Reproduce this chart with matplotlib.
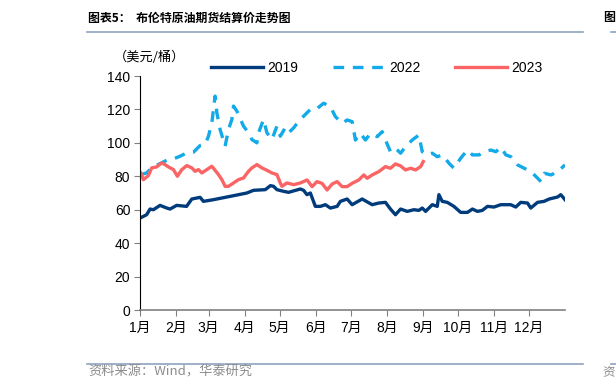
import matplotlib.pyplot as plt
from matplotlib.lines import Line2D

plt.rcParams['font.family'] = ['Liberation Sans', 'Noto Sans CJK SC']

# day-of-year positions and prices (USD/bbl)
days_2019 = [0, 5.7, 8.6, 11.5, 17.2, 23, 25.8, 31.5, 40, 44.5, 51.6, 54.5, 63, 77.5,
             91.8, 97.5, 107.6, 112, 114.7, 117.6, 123.3, 127.6, 137.7, 140.5, 143.4,
             146.3, 150.6, 154.9, 159.2, 163.5, 169.3, 172.1, 177.9, 182.2, 190.8,
             199.4, 205.1, 210.8, 215.1, 219.4, 223.8, 229.5, 235.2, 239.5, 242.4,
             245.3, 251, 255.3, 256.7, 259.6, 263.9, 269.6, 275.4, 281.2, 285.5,
             289.8, 294, 298.4, 304, 309.8, 318.4, 322.7, 327, 332.8, 335.6, 341.4,
             347, 351.4, 358.6, 361.4, 365]
brent_2019 = [55, 57, 60.4, 60, 62.6, 61, 60.4, 62.6, 62, 66.4, 67.4, 65, 66, 68,
              70, 71.6, 72, 74.4, 74, 72, 71, 70.4, 72.4, 71.6, 69,
              70, 62, 62, 63, 61, 62, 65, 66.4, 63, 66.4,
              63, 64, 64.4, 60.4, 57, 60.4, 59, 60, 59.6, 61,
              59, 63, 62, 69, 65, 64.4, 62, 58.4, 58.4, 60.4,
              59, 59.6, 62, 61.6, 63, 63, 61.6, 64.4, 64, 61, 64.4,
              65, 66.4, 67.6, 69, 66]

days_2022 = [0.6, 5.7, 10, 17.2, 23, 28.7, 34.4, 40.2, 45.9, 51.6, 55.9, 58.8, 61.7,
             64.5, 66, 68.8, 73.1, 76, 78.9, 80.3, 83.2, 88.9, 93.2, 96.1, 100.4,
             101.8, 106.1, 109, 113.3, 117.6, 120.5, 124.7, 127.6, 132, 136.3, 142,
             146.3, 150.6, 157.7, 163.5, 167.8, 173.6, 177.9, 182.2, 185, 189.3,
             193.6, 198, 203.7, 208, 210.8, 215.1, 219.4, 223.8, 228, 233.8, 239.5,
             242.4, 246.7, 251, 255.3, 259.6, 265.4, 269.6, 275.4, 281.2, 285.5,
             291.3, 295.6, 301.3, 305.6, 310, 314.2, 318.5, 324.3, 330, 335.8, 340.1,
             344.4, 347.3, 353, 358.8, 365]
brent_2022 = [81, 82, 85, 87.6, 89.6, 90.4, 92, 94, 94.4, 98.4, 99, 104, 112,
              128, 118, 108, 98, 108, 114, 122, 119, 110, 106, 102, 100,
              106, 114, 106, 102, 110, 104, 109, 106, 109, 113, 117,
              120, 119.7, 123.7, 121.7, 115.7, 111.7, 113.7, 112.7, 101.7, 105.7,
              101.7, 105.7, 103.7, 106.7, 101.7, 94.7, 96.8, 93.8, 97.7, 101.7, 104.7,
              94.7, 92.8, 93.8, 91.7, 92.8, 87.8, 84.8, 90.8, 95.7, 92.8,
              92.8, 94.7, 95.7, 94.7, 97.4, 92.8, 91.7, 86.8, 84.8, 82.8, 79.8,
              76.8, 81.8, 80.8, 82.8, 86.8]

days_2023 = [0.6, 2.9, 7.2, 10, 14.3, 18.6, 21.5, 24.4, 28.7, 32.1, 35.9, 40.2, 44.5,
             47.3, 50.2, 53.1, 57.4, 61.7, 64.5, 67.4, 70.3, 73.1, 76, 80.3, 84.6,
             88.9, 93.2, 96.1, 100.4, 104.7, 109, 113.3, 117.6, 120.5, 121.9, 126.2,
             132, 137.7, 143.5, 147.8, 152, 156.3, 160.7, 165, 169.3, 173.6, 177.9,
             182.2, 187.9, 192.2, 195.1, 199.4, 205.1, 210.8, 215.1, 219.4, 223.8,
             228, 232.4, 236.7, 241, 243.3]
brent_2023 = [82, 78, 80.4, 85, 85.6, 88, 87, 85.6, 84, 80, 84, 86.4, 85,
              83, 84, 82, 84, 86, 83.6, 81, 78, 74, 74, 76, 78,
              79, 83, 85, 87, 85, 83.6, 82, 81, 76, 74, 76,
              75, 76, 77.8, 73.8, 76.8, 75.8, 71.8, 75.4, 76.8, 73.8, 73.8,
              75.8, 77.8, 80.8, 78.8, 80.8, 82.8, 85.8, 84.8, 87.4, 86.2,
              83.8, 84.8, 83.8, 85.8, 88.8]

month_days = [0, 31, 59, 90, 120, 151, 181, 212, 243, 273, 304, 334]
month_labels = ['1月', '2月', '3月', '4月', '5月', '6月', '7月', '8月', '9月', '10月', '11月', '12月']

c2019 = '#003b7c'
c2022 = '#12aae8'
c2023 = '#fa6464'
rule = '#8ea2bf'

fig = plt.figure(figsize=(6.16, 3.89), dpi=100)
ax = fig.add_axes([140 / 616, 1 - 310 / 389, 425 / 616, 234 / 389])

ax.plot(days_2019, brent_2019, color=c2019, lw=2.4, label='2019')
ax.plot(days_2022, brent_2022, color=c2022, lw=2.4, dashes=(3.2, 2.6), label='2022')
ax.plot(days_2023, brent_2023, color=c2023, lw=2.4, label='2023')

ax.set_xlim(0, 365)
ax.set_ylim(0, 140)
ax.set_yticks(range(0, 141, 20))
ax.set_xticks(month_days)
ax.set_xticklabels(month_labels)
ax.tick_params(axis='y', labelsize=10, length=4, color='#808080', direction='out', pad=3)
ax.tick_params(axis='x', labelsize=10, length=4, color='#808080', direction='out', pad=4)
for s in ['top', 'right']:
    ax.spines[s].set_visible(False)
ax.spines['left'].set_color('black')
ax.spines['bottom'].set_color('#808080')
ax.spines['bottom'].set_linewidth(1.2)

handles = [Line2D([], [], color=c2019, lw=2.4),
           Line2D([], [], color=c2022, lw=2.4, dashes=(3.2, 2.6)),
           Line2D([], [], color=c2023, lw=2.4)]
fig.legend(handles, ['2019', '2022', '2023'], loc='center', ncol=3, frameon=False,
           bbox_to_anchor=(377 / 616, 1 - 68 / 389), handlelength=3.7,
           columnspacing=2.5, handletextpad=0.35, fontsize=10)

fig.text(114 / 616, 1 - 57 / 389, '（美元/桶）', fontsize=9.5, va='center', ha='left',
         family=['Noto Sans CJK SC'])

fig.text(88 / 616, 1 - 18 / 389, '图表5：  布伦特原油期货结算价走势图', fontsize=8.6,
         fontweight='bold', va='center', ha='left', family=['Noto Sans CJK SC'])
fig.add_artist(Line2D([87 / 616, 583 / 616], [1 - 32 / 389] * 2, color=rule, lw=1.2))
fig.add_artist(Line2D([611 / 616, 1], [1 - 32 / 389] * 2, color=rule, lw=1.2))
fig.text(603 / 616, 1 - 18 / 389, '图', fontsize=8.6, fontweight='bold', va='center',
         ha='left', family=['Noto Sans CJK SC'])

fig.add_artist(Line2D([87 / 616, 583 / 616], [1 - 364 / 389] * 2, color=rule, lw=1.2))
fig.add_artist(Line2D([611 / 616, 1], [1 - 364 / 389] * 2, color=rule, lw=1.2))
fig.text(88 / 616, 1 - 372 / 389, '资料来源：Wind，华泰研究', fontsize=9.5, color='#8c8c8c',
         va='center', ha='left', family=['Noto Sans CJK SC'])
fig.text(602 / 616, 1 - 372 / 389, '资', fontsize=9, color='#8c8c8c',
         va='center', ha='left', family=['Noto Sans CJK SC'])

fig.savefig('out.png', dpi=100)
